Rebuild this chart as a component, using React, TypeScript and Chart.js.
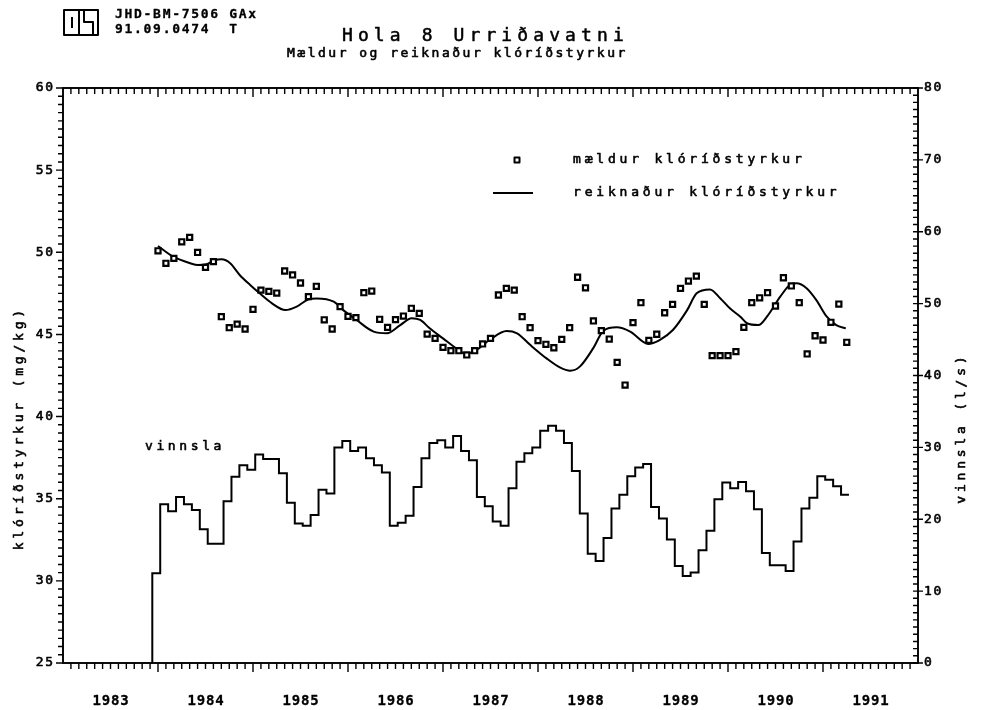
import { useEffect, useRef } from "react";
import { Chart, registerables } from "chart.js";

Chart.register(...registerables);

// ---------- data ----------
const measuredStart = 1984.0; // monthly samples
const measuredValues = [
  50.09, 49.33, 49.63, 50.64, 50.91, 49.99, 49.08, 49.43, 46.08, 45.41,
  45.63, 45.33, 46.53, 47.7, 47.62, 47.52, 48.86, 48.62, 48.13, 47.3,
  47.93, 45.89, 45.33, 46.69, 46.1, 46.02, 47.54, 47.64, 45.92, 45.43,
  45.9, 46.12, 46.59, 46.28, 45.02, 44.76, 44.21, 44.01, 44.01, 43.75,
  44.01, 44.42, 44.76, 47.4, 47.8, 47.7, 46.08, 45.41, 44.62, 44.4,
  44.19, 44.7, 45.41, 48.48, 47.84, 45.82, 45.23, 44.72, 43.3, 41.92,
  45.72, 46.93, 44.64, 45.01, 46.32, 46.83, 47.8, 48.25, 48.55, 46.83,
  43.71, 43.71, 43.71, 43.95, 45.43, 46.93, 47.23, 47.54, 46.73, 48.45,
  47.95, 46.93, 43.81, 44.92, 44.66, 45.74, 46.85, 44.52,
];

const calcYears = [
  1984.0, 1984.16, 1984.34, 1984.42, 1984.51, 1984.59, 1984.67, 1984.76, 1984.86, 1984.97,
  1985.07, 1985.2, 1985.34, 1985.46, 1985.58, 1985.67, 1985.85, 1985.95, 1986.09, 1986.27,
  1986.41, 1986.55, 1986.67, 1986.76, 1986.86, 1987.0, 1987.14, 1987.24, 1987.35, 1987.49,
  1987.67, 1987.78, 1987.92, 1988.09, 1988.23, 1988.34, 1988.44, 1988.58, 1988.69, 1988.83,
  1988.97, 1989.16, 1989.28, 1989.42, 1989.57, 1989.67, 1989.81, 1989.92, 1990.02, 1990.13,
  1990.2, 1990.32, 1990.41, 1990.55, 1990.65, 1990.72, 1990.83, 1990.93, 1991.04, 1991.14,
  1991.24,
];
const calcValues = [
  50.38, 49.73, 49.33, 49.22, 49.27, 49.49, 49.57, 49.33, 48.62, 48.01,
  47.5, 46.89, 46.48, 46.69, 47.13, 47.19, 46.99, 46.48, 45.88, 45.17,
  45.07, 45.57, 45.98, 45.88, 45.37, 44.76, 44.15, 43.81, 44.05, 44.66,
  45.21, 45.07, 44.35, 43.54, 42.99, 42.79, 43.04, 44.15, 45.23, 45.43,
  45.17, 44.42, 44.66, 45.27, 46.48, 47.5, 47.74, 47.19, 46.59, 46.08,
  45.68, 45.57, 46.08, 47.3, 48.01, 48.11, 47.8, 47.09, 46.08, 45.57,
  45.37,
];

const vinnslaStart = 1983.94; // monthly production (l/s)
const vinnslaValues = [
  12.5, 22.1, 21.1, 23.1, 22.1, 21.3, 18.6, 16.6, 16.6, 22.5,
  25.9, 27.5, 26.9, 29.0, 28.4, 28.4, 26.4, 22.3, 19.4, 19.1,
  20.6, 24.1, 23.6, 30.0, 30.9, 29.5, 30.0, 28.5, 27.5, 26.5,
  19.1, 19.5, 20.5, 24.5, 28.5, 30.6, 31.0, 30.0, 31.6, 29.5,
  28.2, 23.1, 21.8, 19.7, 19.1, 24.3, 28.0, 29.2, 30.0, 32.3,
  33.0, 32.3, 30.6, 26.7, 20.8, 15.2, 14.2, 17.4, 21.5, 23.4,
  26.0, 27.2, 27.7, 21.7, 20.1, 17.2, 13.5, 12.1, 12.6, 15.7,
  18.4, 22.8, 25.1, 24.3, 25.2, 23.9, 21.4, 15.3, 13.6, 13.6,
  12.8, 16.9, 21.5, 23.0, 26.0, 25.5, 24.6, 23.4,
];

const leftTicks = [25, 30, 35, 40, 45, 50, 55, 60];
const rightTicks = [0, 10, 20, 30, 40, 50, 60, 70, 80];
const yearLabels = [1983, 1984, 1985, 1986, 1987, 1988, 1989, 1990, 1991];
const xMin = 1983;
const xMax = 1992;
const leftMin = 25, leftMax = 60;
const rightMin = 0, rightMax = 80;

const titleText = "Hola 8 Urriðavatni";
const subtitleText = "Mældur og reiknaður klóríðstyrkur";
const headerLines = ["JHD-BM-7506 GAx", "91.09.0474  T"];
const legendMeasured = "mældur klóríðstyrkur";
const legendCalc = "reiknaður klóríðstyrkur";
const vinnslaLabel = "vinnsla";
const leftTitle = "klóríðstyrkur (mg/kg)";
const rightTitle = "vinnsla (l/s)";

const FONT = '"DejaVu Sans Mono", monospace';

function drawSpaced(
  ctx: CanvasRenderingContext2D,
  text: string,
  x: number,
  y: number,
  spacing: number,
  align: "left" | "center" | "right",
  thick = 0.6
) {
  const chars = Array.from(text);
  const widths = chars.map((c) => ctx.measureText(c).width);
  const total = widths.reduce((a, b) => a + b, 0) + spacing * (chars.length - 1);
  let cx = align === "center" ? x - total / 2 : align === "right" ? x - total : x;
  ctx.textAlign = "left";
  ctx.lineWidth = thick;
  ctx.lineJoin = "round";
  chars.forEach((c, i) => {
    ctx.fillText(c, cx, y);
    if (thick > 0) ctx.strokeText(c, cx, y);
    cx += widths[i] + spacing;
  });
}

const decorPlugin = {
  id: "decor",
  afterDraw(chart: any) {
    const ctx: CanvasRenderingContext2D = chart.ctx;
    const { left, right, top, bottom } = chart.chartArea;
    const xs = chart.scales.x;
    const yl = chart.scales.y;
    const yr = chart.scales.y1;
    ctx.save();
    ctx.strokeStyle = "#000";
    ctx.fillStyle = "#000";
    ctx.lineCap = "butt";

    // ticks
    ctx.lineWidth = 1.4;
    ctx.beginPath();
    for (let yv = xMin; yv < xMax; yv++) {
      for (let m = 0; m < 12; m++) {
        if (yv === xMin && m === 0) continue;
        const px = xs.getPixelForValue(yv + m / 12);
        const len = m === 0 ? 9 : 6;
        ctx.moveTo(px, bottom);
        ctx.lineTo(px, bottom + len);
        ctx.moveTo(px, top);
        ctx.lineTo(px, top + len);
      }
    }
    for (let v = leftMin; v <= leftMax + 1e-9; v += 0.5) {
      const py = yl.getPixelForValue(v);
      const major = Math.abs(v % 5) < 1e-9;
      ctx.moveTo(left, py);
      ctx.lineTo(left - (major ? 7 : 5), py);
    }
    for (let v = rightMin; v <= rightMax; v += 1) {
      const py = yr.getPixelForValue(v);
      ctx.moveTo(right, py);
      ctx.lineTo(right - 5, py);
      if (v % 10 === 0) {
        ctx.moveTo(right, py);
        ctx.lineTo(right + 5, py);
      }
    }
    ctx.stroke();

    // frame
    ctx.lineWidth = 1.9;
    ctx.strokeRect(left, top, right - left, bottom - top);

    ctx.textBaseline = "middle";
    // tick labels
    ctx.font = `13px ${FONT}`;
    leftTicks.forEach((v) => drawSpaced(ctx, String(v), left - 10, yl.getPixelForValue(v), 1.7, "right"));
    rightTicks.forEach((v) => drawSpaced(ctx, String(v), right + 6, yr.getPixelForValue(v), 1.7, "left"));
    ctx.font = `bold 14px ${FONT}`;
    yearLabels.forEach((yv) => drawSpaced(ctx, String(yv), xs.getPixelForValue(yv + 0.5), bottom + 38, 0.8, "center", 0.3));

    // header
    ctx.font = `bold 13px ${FONT}`;
    drawSpaced(ctx, headerLines[0], 115, 15, 1.7, "left", 0.3);
    drawSpaced(ctx, headerLines[1], 115, 30, 1.7, "left", 0.3);
    // logo
    ctx.lineWidth = 2;
    ctx.strokeRect(64, 10, 34, 25);
    ctx.beginPath();
    ctx.moveTo(72, 17); ctx.lineTo(72, 28);
    ctx.moveTo(79, 10); ctx.lineTo(79, 35);
    ctx.moveTo(84, 10); ctx.lineTo(84, 22); ctx.lineTo(93, 22); ctx.lineTo(93, 35);
    ctx.stroke();

    // titles
    ctx.font = `18px ${FONT}`;
    drawSpaced(ctx, titleText, 342, 36, 5.1, "left", 0.5);
    ctx.font = `13px ${FONT}`;
    drawSpaced(ctx, subtitleText, 287, 54, 2.5, "left", 0.6);

    // legend
    ctx.font = `13px ${FONT}`;
    ctx.lineWidth = 2;
    ctx.fillStyle = "#fff";
    ctx.fillRect(514.5, 157.5, 5, 5);
    ctx.strokeRect(514.5, 157.5, 5, 5);
    ctx.fillStyle = "#000";
    drawSpaced(ctx, legendMeasured, 573, 160, 3.8, "left");
    ctx.lineWidth = 2;
    ctx.beginPath();
    ctx.moveTo(493, 193);
    ctx.lineTo(533, 193);
    ctx.stroke();
    drawSpaced(ctx, legendCalc, 573, 193, 3.8, "left");

    // series label
    drawSpaced(ctx, vinnslaLabel, 145, 447, 3.6, "left");

    // axis titles
    ctx.save();
    ctx.translate(20, 430);
    ctx.rotate(-Math.PI / 2);
    drawSpaced(ctx, leftTitle, 0, 0, 3.8, "center");
    ctx.restore();
    ctx.save();
    ctx.translate(962, 430);
    ctx.rotate(-Math.PI / 2);
    drawSpaced(ctx, rightTitle, 0, 0, 3.8, "center");
    ctx.restore();

    ctx.restore();
  },
};

export default function App() {
  const ref = useRef<HTMLCanvasElement>(null);
  useEffect(() => {
    const measured = measuredValues.map((v, i) => ({ x: measuredStart + i / 12, y: v }));
    const calc = calcYears.map((x, i) => ({ x, y: calcValues[i] }));
    const vinnsla = [
      { x: vinnslaStart, y: 0 },
      ...vinnslaValues.map((v, i) => ({ x: vinnslaStart + i / 12, y: v })),
      { x: vinnslaStart + vinnslaValues.length / 12, y: vinnslaValues[vinnslaValues.length - 1] },
    ];
    const hidden = {
      ticks: { display: false },
      grid: { display: false, drawTicks: false },
      border: { display: false },
    };
    const chart = new Chart(ref.current!, {
      type: "line",
      data: {
        datasets: [
          {
            label: legendMeasured,
            data: measured,
            yAxisID: "y",
            showLine: false,
            pointStyle: "rect",
            pointRadius: 3.6,
            pointBorderWidth: 2.2,
            pointBackgroundColor: "#fff",
            pointBorderColor: "#000",
            borderColor: "#000",
            backgroundColor: "#fff",
          },
          {
            label: legendCalc,
            data: calc,
            yAxisID: "y",
            borderColor: "#000",
            borderWidth: 2,
            pointRadius: 0,
            cubicInterpolationMode: "monotone",
            fill: false,
          },
          {
            label: vinnslaLabel,
            data: vinnsla,
            yAxisID: "y1",
            borderColor: "#000",
            borderWidth: 2,
            pointRadius: 0,
            stepped: true,
            fill: false,
          },
        ],
      },
      options: {
        animation: false,
        responsive: false,
        devicePixelRatio: 1,
        layout: { padding: { top: 88, left: 0, right: 0, bottom: 0 } },
        plugins: { legend: { display: false }, title: { display: false }, tooltip: { enabled: false } },
        events: [],
        scales: {
          x: {
            type: "linear",
            min: xMin,
            max: xMax,
            ...hidden,
            afterFit(s: any) { s.height = 47; },
          },
          y: {
            position: "left",
            min: leftMin,
            max: leftMax,
            ...hidden,
            afterFit(s: any) { s.width = 63; },
          },
          y1: {
            position: "right",
            min: rightMin,
            max: rightMax,
            ...hidden,
            afterFit(s: any) { s.width = 69; },
          },
        },
      } as any,
      plugins: [decorPlugin],
    });
    return () => chart.destroy();
  }, []);
  return (
    <div style={{ position: "absolute", left: 0, top: 0, width: 987, height: 710, background: "#fff" }}>
      <canvas ref={ref} width={987} height={710} style={{ display: "block", width: 987, height: 710 }} />
    </div>
  );
}
